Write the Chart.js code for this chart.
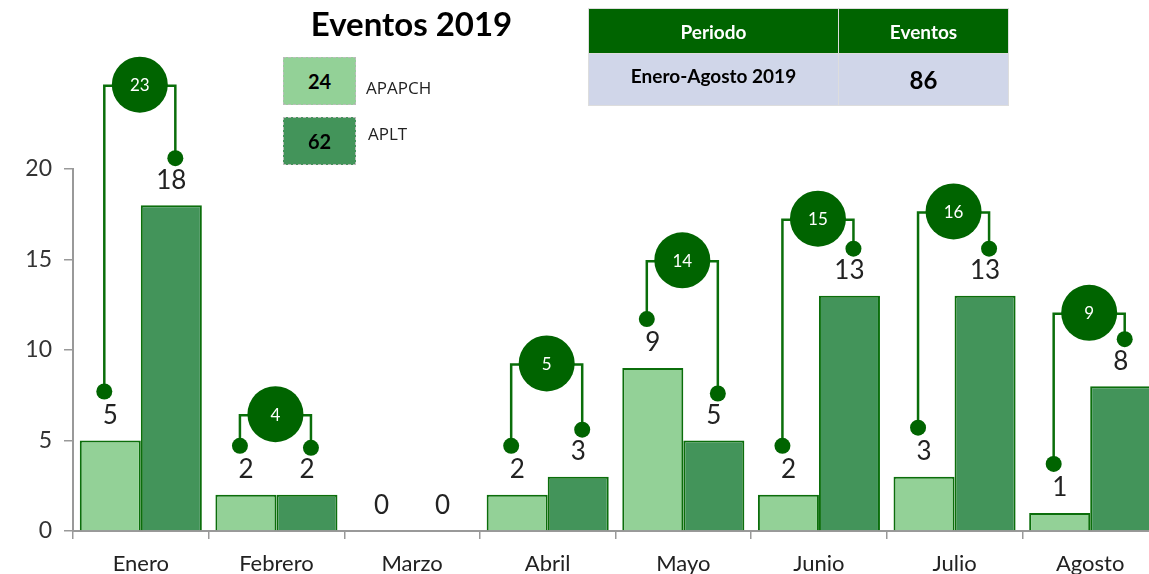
<!DOCTYPE html>
<html>
<head>
<meta charset="utf-8">
<script src="https://cdn.jsdelivr.net/npm/chart.js@4"></script>
<style>
  body { margin: 0; overflow: hidden; background: #fff; font-family: Lato, sans-serif; }
  #wrap { position: absolute; left: 0; top: 0; width: 1158px; height: 574px; }
  #titulo { position: absolute; left: 280px; top: 3px; width: 263px; text-align: center;
            font: bold 33px Lato, sans-serif; color: #000; }
  .caja { position: absolute; left: 283px; width: 71px; height: 46px; border: 1px dashed #bbb;
          font: bold 20px Lato, sans-serif; text-align: center; line-height: 46px; color: #000; }
  .etq { position: absolute; font: 17px "Open Sans", sans-serif; color: #222; }
  #tabla { position: absolute; left: 588px; top: 8px; border-collapse: collapse; }
  #tabla td { border: 1px solid #ddd; text-align: center; font-family: Lato, sans-serif; font-weight: bold;
              padding: 0; box-sizing: border-box; }
  #tabla .cab { background: #006400; color: #fff; height: 45px; font-size: 19px; }
  #tabla .cue { background: #d0d6e9; color: #000; height: 52px; }
</style>
</head>
<body>
<div id="wrap"><canvas id="grafica"></canvas></div>
<div id="titulo">Eventos 2019</div>
<div class="caja" style="top:57px;background:#93d197;">24</div>
<div class="caja" style="top:117px;background:#43945a;">62</div>
<div class="etq" style="left:366px;top:76px;">APAPCH</div>
<div class="etq" style="left:368px;top:122px;">APLT</div>
<table id="tabla">
  <tr><td class="cab" style="width:250px;">Periodo</td><td class="cab" style="width:170px;">Eventos</td></tr>
  <tr><td class="cue" style="font-size:19px;padding-bottom:8px;">Enero-Agosto 2019</td><td class="cue" style="font-size:24px;">86</td></tr>
</table>
<script>
const meses = ['Enero', 'Febrero', 'Marzo', 'Abril', 'Mayo', 'Junio', 'Julio', 'Agosto'];
const apapch = [5, 2, 0, 2, 9, 2, 3, 1];
const aplt = [18, 2, 0, 3, 5, 13, 13, 8];
const totales = [23, 4, 0, 5, 14, 15, 16, 9];
// altura (en unidades del eje) de cada conector con el total
const nivelConector = [24.6, 6.4, null, 9.2, 14.9, 17.2, 17.6, 12.0];
const ticksY = [0, 5, 10, 15, 20];

const verde = '#006400';

const conectores = {
    id: 'conectores',
    afterDatasetsDraw(chart) {
        const ctx = chart.ctx;
        const y = chart.scales.y;
        const m0 = chart.getDatasetMeta(0);
        const m1 = chart.getDatasetMeta(1);
        ctx.save();
        ctx.textAlign = 'center';
        ctx.textBaseline = 'middle';
        for (let i = 0; i < meses.length; i++) {
            const b0 = m0.data[i], b1 = m1.data[i];
            ctx.fillStyle = '#222';
            ctx.font = '26px Lato, sans-serif';
            ctx.fillText(apapch[i], b0.x, b0.y - 25);
            ctx.fillText(aplt[i], b1.x, b1.y - 25);
            if (nivelConector[i] == null) continue;
            const x0 = b0.x - 6, x1 = b1.x + 4;
            const yl = y.getPixelForValue(nivelConector[i]);
            const d0 = b0.y - 49, d1 = b1.y - 47;
            ctx.strokeStyle = '#0a6e0a';
            ctx.lineWidth = 2.5;
            ctx.beginPath();
            ctx.moveTo(x0, d0);
            ctx.lineTo(x0, yl);
            ctx.lineTo(x1, yl);
            ctx.lineTo(x1, d1);
            ctx.stroke();
            ctx.fillStyle = verde;
            [[x0, d0], [x1, d1]].forEach(p => {
                ctx.beginPath();
                ctx.arc(p[0], p[1], 8, 0, Math.PI * 2);
                ctx.fill();
            });
            const xc = (x0 + x1) / 2;
            ctx.beginPath();
            ctx.arc(xc, yl - 1, 28, 0, Math.PI * 2);
            ctx.fill();
            ctx.fillStyle = '#fff';
            ctx.font = '17px Lato, sans-serif';
            ctx.fillText(totales[i], xc, yl);
        }
        ctx.restore();
    }
};

new Chart(document.getElementById('grafica'), {
    type: 'bar',
    data: {
        labels: meses,
        datasets: [{
            label: 'APAPCH',
            data: apapch,
            backgroundColor: '#93d197',
            borderColor: '#0b6e0b',
            borderWidth: 2,
            categoryPercentage: 0.9,
            barPercentage: 1.0
        }, {
            label: 'APLT',
            data: aplt,
            backgroundColor: '#43945a',
            borderColor: '#0b6e0b',
            borderWidth: 2,
            categoryPercentage: 0.9,
            barPercentage: 1.0
        }]
    },
    options: {
        responsive: true,
        maintainAspectRatio: false,
        animation: false,
        layout: { padding: { top: 169, left: 0, right: 0, bottom: 0 } },
        scales: {
            x: {
                grid: { drawOnChartArea: false, tickLength: 8, color: '#999', lineWidth: 1.5 },
                border: { color: '#999', width: 2 },
                ticks: { color: '#222', font: { size: 22, family: 'Lato' }, padding: 12 },
                afterFit: (s) => { s.height = 43; }
            },
            y: {
                min: 0,
                max: 20,
                afterBuildTicks: (s) => { s.ticks = ticksY.map(v => ({ value: v })); },
                grid: { drawOnChartArea: false, tickLength: 9, color: '#999', lineWidth: 1.5 },
                border: { color: '#999', width: 2 },
                ticks: { color: '#333', font: { size: 23, family: 'Lato' }, padding: 12 },
                afterFit: (s) => { s.width = 73; }
            }
        },
        plugins: {
            legend: { display: false },
            tooltip: { enabled: false }
        }
    },
    plugins: [conectores]
});
</script>
</body>
</html>
